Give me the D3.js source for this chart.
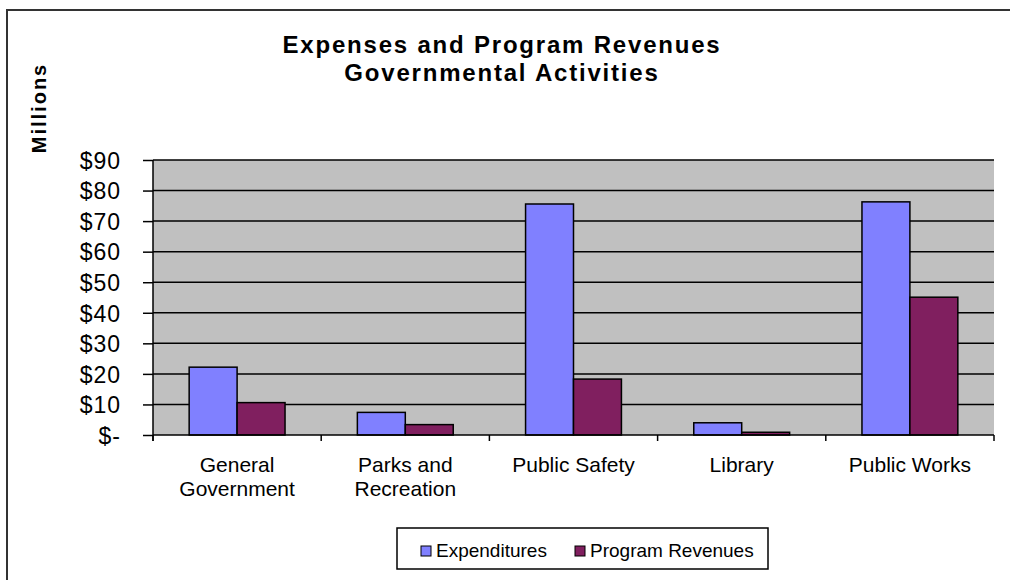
<!DOCTYPE html>
<html>
<head>
<meta charset="utf-8">
<script src="https://cdn.jsdelivr.net/npm/d3@7"></script>
<style>
  body { margin: 0; background: #fff; }
  text { font-family: Arial, "Liberation Sans", sans-serif; fill: #000; }
</style>
</head>
<body>
<div id="chart"></div>
<script>
const categories = [
  ["General", "Government"],
  ["Parks and", "Recreation"],
  ["Public Safety"],
  ["Library"],
  ["Public Works"]
];
const seriesNames = ["Expenditures", "Program Revenues"];
const expenditures = [22.2, 7.4, 75.6, 4.0, 76.3];
const programRevenues = [10.6, 3.4, 18.3, 0.9, 45.1];
const yTicks = [0, 10, 20, 30, 40, 50, 60, 70, 80, 90];
const colors = ["#8080FF", "#801F5F"];

const width = 1010, height = 580;
const plot = { left: 153, right: 994, top: 160, bottom: 435 };

const svg = d3.select("#chart")
  .append("svg")
  .attr("width", width)
  .attr("height", height);

// chart frame (only top/left show in the crop)
svg.append("path")
  .attr("d", `M7,${height} V10 H${width}`)
  .attr("fill", "none")
  .attr("stroke", "#333")
  .attr("stroke-width", 2);

// title
const title = svg.append("text")
  .attr("text-anchor", "middle")
  .style("font-weight", "bold")
  .style("font-size", "24px")
  .style("letter-spacing", "1.8px");
title.append("tspan").attr("x", 502).attr("y", 53).text("Expenses and Program Revenues");
title.append("tspan").attr("x", 502).attr("y", 81).text("Governmental Activities");

// y label
svg.append("text")
  .attr("transform", "translate(46,108) rotate(-90)")
  .attr("text-anchor", "middle")
  .style("font-weight", "bold")
  .style("font-size", "20px")
  .style("letter-spacing", "2px")
  .text("Millions");

const x = d3.scaleBand()
  .domain(d3.range(categories.length))
  .range([plot.left, plot.right])
  .paddingInner(0.43)
  .paddingOuter(0.215);

const x1 = d3.scaleBand()
  .domain([0, 1])
  .range([0, x.bandwidth()]);

const y = d3.scaleLinear()
  .domain([0, 90])
  .range([plot.bottom, plot.top]);

// plot background
svg.append("rect")
  .attr("x", plot.left)
  .attr("y", plot.top)
  .attr("width", plot.right - plot.left)
  .attr("height", plot.bottom - plot.top)
  .attr("fill", "#C0C0C0");

// gridlines
svg.append("g")
  .selectAll("line")
  .data(yTicks.filter(d => d > 0))
  .join("line")
  .attr("x1", plot.left)
  .attr("x2", plot.right)
  .attr("y1", d => y(d))
  .attr("y2", d => y(d))
  .attr("stroke", "#000")
  .attr("stroke-width", 1.5);

// y axis
const yAxis = svg.append("g")
  .attr("transform", `translate(${plot.left},0)`)
  .call(d3.axisLeft(y)
    .tickValues(yTicks)
    .tickSize(10)
    .tickPadding(22)
    .tickFormat(d => d === 0 ? "$-" : "$" + d));
yAxis.select(".domain").remove();
yAxis.selectAll(".tick line").attr("stroke", "#000").attr("stroke-width", 1.5);
yAxis.selectAll(".tick text")
  .style("font-size", "23px")
  .style("letter-spacing", "1px")
  .attr("dy", "0.36em");

svg.append("line")
  .attr("x1", plot.left).attr("x2", plot.left)
  .attr("y1", plot.top).attr("y2", plot.bottom + 6)
  .attr("stroke", "#000").attr("stroke-width", 1.5);

// bars
const rows = categories.map((c, i) => [expenditures[i], programRevenues[i]]);
svg.append("g")
  .selectAll("g")
  .data(rows)
  .join("g")
  .attr("transform", (d, i) => `translate(${x(i)},0)`)
  .selectAll("rect")
  .data(d => d.map((v, k) => ({ v, k })))
  .join("rect")
  .attr("x", d => x1(d.k))
  .attr("width", x1.bandwidth())
  .attr("y", d => y(d.v))
  .attr("height", d => y(0) - y(d.v))
  .attr("fill", d => colors[d.k])
  .attr("stroke", "#000")
  .attr("stroke-width", 1.5);

// x axis line + boundary ticks
svg.append("line")
  .attr("x1", plot.left).attr("x2", plot.right)
  .attr("y1", plot.bottom).attr("y2", plot.bottom)
  .attr("stroke", "#000").attr("stroke-width", 1.5);

const step = x.step();
svg.append("g")
  .selectAll("line")
  .data(d3.range(categories.length + 1))
  .join("line")
  .attr("x1", i => plot.left + i * step)
  .attr("x2", i => plot.left + i * step)
  .attr("y1", plot.bottom)
  .attr("y2", plot.bottom + 6)
  .attr("stroke", "#000")
  .attr("stroke-width", 1.5);

// category labels
svg.append("g")
  .selectAll("text")
  .data(categories)
  .join("text")
  .attr("text-anchor", "middle")
  .style("font-size", "21px")
  .each(function (lines, i) {
    const cx = x(i) + x.bandwidth() / 2;
    d3.select(this).selectAll("tspan")
      .data(lines)
      .join("tspan")
      .attr("x", cx)
      .attr("y", (d, j) => 472 + j * 24)
      .text(d => d);
  });

// legend
const legend = svg.append("g");
legend.append("rect")
  .attr("x", 397).attr("y", 528)
  .attr("width", 371).attr("height", 41)
  .attr("fill", "#fff")
  .attr("stroke", "#000")
  .attr("stroke-width", 1.5);

const legendX = [421, 575];
const items = legend.selectAll("g.item")
  .data(seriesNames)
  .join("g")
  .attr("class", "item")
  .attr("transform", (d, i) => `translate(${legendX[i]},546)`);
items.append("rect")
  .attr("width", 10).attr("height", 10)
  .attr("fill", (d, i) => colors[i])
  .attr("stroke", "#000")
  .attr("stroke-width", 1);
items.append("text")
  .attr("x", 15)
  .attr("y", 11)
  .style("font-size", "19px")
  .text(d => d);
</script>
</body>
</html>
